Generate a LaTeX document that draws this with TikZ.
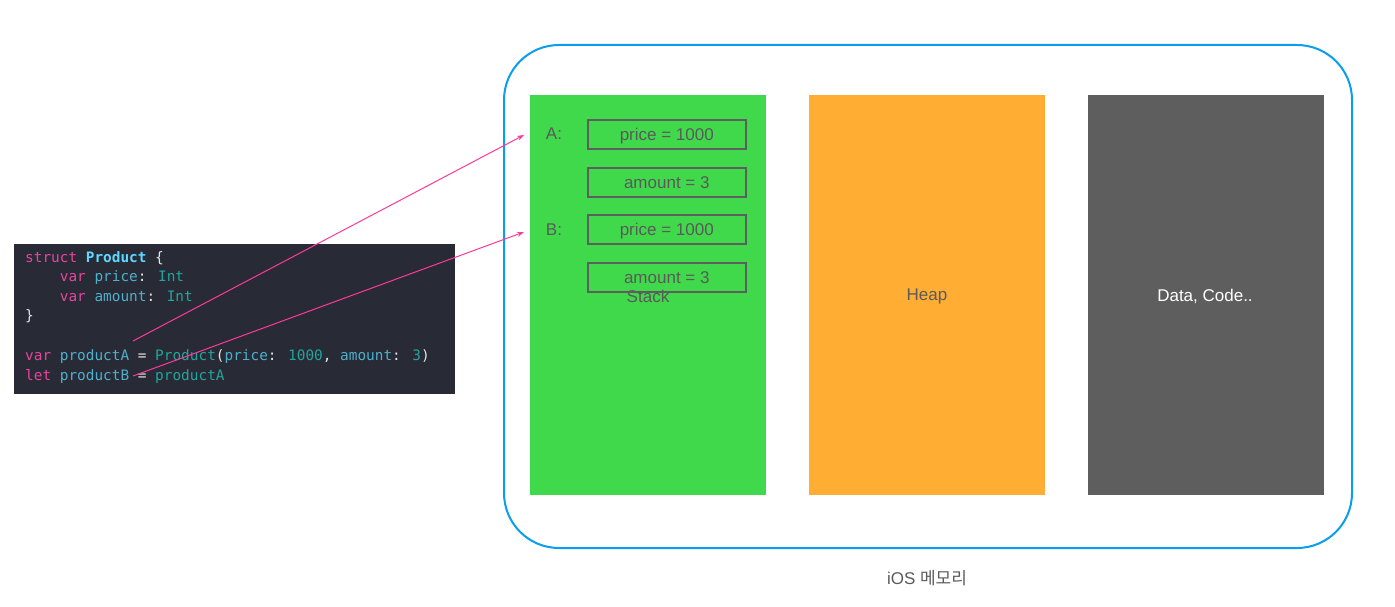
\documentclass[tikz,border=0pt]{standalone}
\usepackage{fontspec}
\usetikzlibrary{arrows.meta}
\setmainfont{Liberation Sans}
\newfontfamily\codefont{DejaVu Sans Mono}
\newfontfamily\krfont{Noto Sans CJK KR}
\definecolor{frameblue}{HTML}{0A9EF0}
\definecolor{stackgreen}{HTML}{41D94C}
\definecolor{heaporange}{HTML}{FFAE33}
\definecolor{datagray}{HTML}{5E5E5E}
\definecolor{textgray}{HTML}{5A5A5A}
\definecolor{codebg}{HTML}{282A36}
\definecolor{kw}{HTML}{E8449E}
\definecolor{ty}{HTML}{5DD8FF}
\definecolor{idc}{HTML}{4EB0CC}
\definecolor{tl}{HTML}{22A59E}
\definecolor{pn}{HTML}{E6E6E6}
\definecolor{arrowpink}{HTML}{FF3A9A}
\begin{document}
\begin{tikzpicture}[x=1pt,y=-1pt,
  region/.style={draw=none,minimum width=236pt,minimum height=400pt,inner sep=0pt,anchor=north west},
  cell/.style={draw=datagray,line width=1.6pt,minimum width=158pt,minimum height=29pt,inner sep=0pt,anchor=north west,text=textgray,font=\fontsize{17}{20}\selectfont,text height=12.5pt,text depth=0pt},
  lbl/.style={text=textgray,font=\fontsize{17}{20}\selectfont,inner sep=0pt},
  codeline/.style={anchor=base west,inner sep=0pt,font=\codefont\fontsize{14.4}{17}\selectfont,text=pn},
  link/.style={draw=arrowpink,line width=1pt,-{Stealth[length=7pt,width=5pt]}}
]
\useasboundingbox (0,0) rectangle (1395,607);
\fill[white] (0,0) rectangle (1395,607);
% outer frame
\node[draw=frameblue,line width=2pt,rounded corners=55pt,minimum width=848pt,minimum height=503pt,anchor=north west,inner sep=0pt] (frame) at (503,44) {};
\node[lbl] (ioslabel) at (927,578) {iOS {\krfont\fontsize{17}{20}\selectfont 메모리}};
% regions
\node[region,fill=stackgreen] (stack) at (530,95) {};
\node[region,fill=heaporange] (heap) at (809,95) {};
\node[region,fill=datagray] (data) at (1088,95) {};
\node[lbl] (stacklbl) at (648,296) {Stack};
\node[lbl] (heaplbl) at (927,296) {Heap};
\node[lbl,text=white] (datalbl) at (1205,296) {Data, Code..};
% cells
\node[cell] (apr) at (587,119) {price = 1000};
\node[cell] (aam) at (587,167) {amount = 3};
\node[cell] (bpr) at (587,214) {price = 1000};
\node[cell] (bam) at (587,262) {amount = 3};
\node[lbl] (alab) at (554,134) {A:};
\node[lbl] (blab) at (554,230) {B:};
% code block
\node[fill=codebg,minimum width=441pt,minimum height=150pt,anchor=north west,inner sep=0pt] (code) at (14,244) {};
\node[codeline] (l1) at (25,262) {\textcolor{kw}{struct} \textcolor{ty}{\bfseries Product} \{};
\node[codeline] (l2) at (25,281) {\phantom{1234}\textcolor{kw}{var} \textcolor{idc}{price}: \textcolor{tl}{Int}};
\node[codeline] (l3) at (25,301) {\phantom{1234}\textcolor{kw}{var} \textcolor{idc}{amount}: \textcolor{tl}{Int}};
\node[codeline] (l4) at (25,320) {\}};
\node[codeline] (l5) at (25,360) {\textcolor{kw}{var} \textcolor{idc}{productA} = \textcolor{tl}{Product}(\textcolor{idc}{price}: \textcolor{tl}{1000}, \textcolor{idc}{amount}: \textcolor{tl}{3})};
\node[codeline] (l6) at (25,380) {\textcolor{kw}{let} \textcolor{idc}{productB} = \textcolor{tl}{productA}};
% connectors
\coordinate (sa) at (133,341);
\coordinate (sb) at (133,376);
\coordinate (ea) at (524,135);
\coordinate (eb) at (524,232);
\draw[link] (sa) -- (ea);
\draw[link] (sb) -- (eb);
\end{tikzpicture}
\end{document}
